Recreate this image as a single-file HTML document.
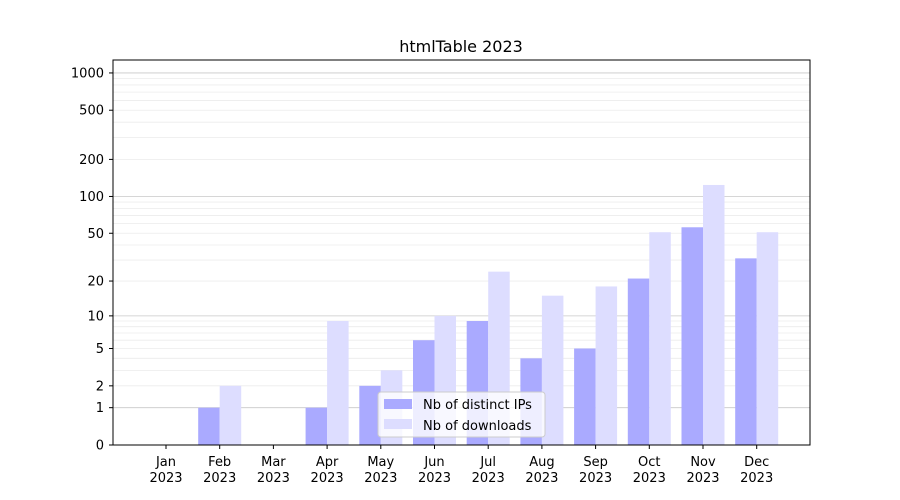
<!DOCTYPE html>
<html><head><meta charset="utf-8"><style>body{margin:0;background:#fff}svg{display:block}</style></head>
<body>
<svg id="s" width="900" height="500" xmlns="http://www.w3.org/2000/svg" font-family="DejaVu Sans, Liberation Sans, sans-serif" font-size="13">
<rect width="900" height="500" fill="#fff"/>
<g id="grid"></g>
<g id="bars"></g>
<rect x="113" y="60" width="697" height="385" fill="none" stroke="#000" stroke-width="1"/>
<g id="ticks"></g>
<text x="461" y="52" text-anchor="middle" font-size="16">htmlTable 2023</text>
<g>
<rect x="378" y="392" width="167" height="45" rx="3" fill="#fff" fill-opacity="0.8" stroke="#ccc"/>
<rect x="384" y="399" width="28" height="10" fill="#aaaaff"/>
<rect x="384" y="419" width="28" height="10" fill="#ddddff"/>
<text x="423" y="409">Nb of distinct IPs</text>
<text x="423" y="430">Nb of downloads</text>
</g>
</svg>
<script>
var NS="http://www.w3.org/2000/svg";
function Y(v){return 445-124*Math.log10(1+v);}
function el(p,t,a,txt){var e=document.createElementNS(NS,t);for(var k in a)e.setAttribute(k,a[k]);if(txt!==undefined)e.textContent=txt;document.getElementById(p).appendChild(e);}
[1,10,100].forEach(function(d){for(var m=2;m<=9;m++){var y=Y(m*d);el("grid","line",{x1:113,x2:810,y1:y,y2:y,stroke:"#ececec","stroke-width":0.8});}});
[1,10,100,1000].forEach(function(v){var y=Y(v);el("grid","line",{x1:113,x2:810,y1:y,y2:y,stroke:"#c8c8c8","stroke-width":0.8});});
var ip=[0,1,0,1,2,6,9,4,5,21,56,31],dl=[0,2,0,9,3,10,24,15,18,51,124,51];
var mon=["Jan","Feb","Mar","Apr","May","Jun","Jul","Aug","Sep","Oct","Nov","Dec"];
for(var i=0;i<12;i++){var c=166+i*53.7;
 if(ip[i]>0)el("bars","rect",{x:c-21.5,y:Y(ip[i]),width:21.5,height:445-Y(ip[i]),fill:"#aaaaff"});
 if(dl[i]>0)el("bars","rect",{x:c,y:Y(dl[i]),width:21.5,height:445-Y(dl[i]),fill:"#ddddff"});
 el("ticks","line",{x1:c,x2:c,y1:445,y2:449,stroke:"#000"});
 el("ticks","text",{x:c,y:466,"text-anchor":"middle"},mon[i]);
 el("ticks","text",{x:c,y:482,"text-anchor":"middle"},"2023");
}
[0,1,2,5,10,20,50,100,200,500,1000].forEach(function(v){var y=Y(v);
 el("ticks","line",{x1:109,x2:113,y1:y,y2:y,stroke:"#000"});
 el("ticks","text",{x:104,y:y+4.5,"text-anchor":"end"},String(v));});
</script>
</body></html>
